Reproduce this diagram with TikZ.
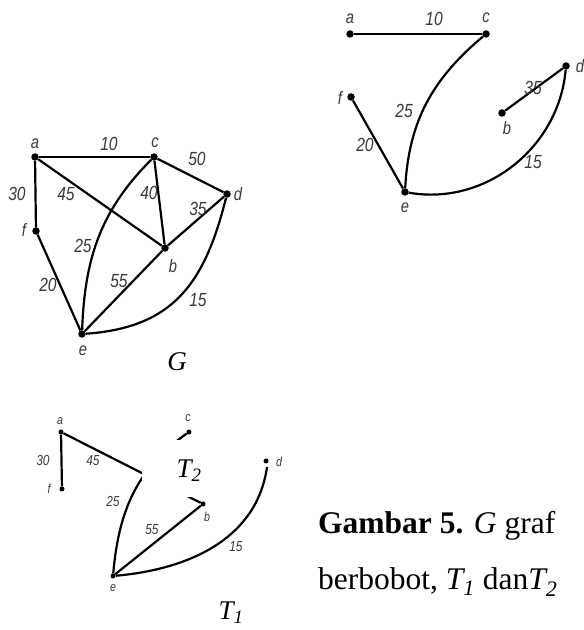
\documentclass[tikz,border=0pt]{standalone}
\usepackage{fontspec}
\setmainfont{Liberation Serif}
\newfontfamily\lblfont[FakeStretch=0.82]{Liberation Sans}
\definecolor{lblgray}{HTML}{3A3A3A}
\tikzset{
  edg/.style={line width=2.2pt, black},
  edgs/.style={line width=2.2pt, black},
  vtx/.style={circle, fill=black, inner sep=0pt, minimum size=7.5pt},
  vtxs/.style={circle, fill=black, inner sep=0pt, minimum size=5pt},
  wlbl/.style={font=\lblfont\itshape\fontsize{19}{19}\selectfont, text=lblgray, inner sep=0pt},
  vlbl/.style={font=\lblfont\itshape\fontsize{18}{18}\selectfont, text=lblgray, inner sep=0pt},
  wlbls/.style={font=\lblfont\itshape\fontsize{14.5}{14.5}\selectfont, text=lblgray, inner sep=0pt},
  vlbls/.style={font=\lblfont\itshape\fontsize{13}{13}\selectfont, text=lblgray, inner sep=0pt},
  biglbl/.style={font=\itshape\fontsize{27}{27}\selectfont, inner sep=0pt},
  captxt/.style={font=\fontsize{31.5}{31.5}\selectfont, inner sep=0pt, anchor=base west},
}
\begin{document}
\begin{tikzpicture}[x=1pt,y=1pt]
\useasboundingbox (0,0) rectangle (584,630);

% ---------------- Graph G ----------------
\node[vtx] (Ga) at (35,473) {};
\node[vtx] (Gc) at (154,473) {};
\node[vtx] (Gd) at (227,436) {};
\node[vtx] (Gf) at (36,399) {};
\node[vtx] (Gb) at (165,382) {};
\node[vtx] (Ge) at (82,296) {};
\draw[edg] (Ga) -- (Gc);
\draw[edg] (Ga) -- (Gf);
\draw[edg] (Ga) -- (Gb);
\draw[edg] (Gc) -- (Gb);
\draw[edg] (Gc) -- (Gd);
\draw[edg] (Gb) -- (Gd);
\draw[edg] (Gf) -- (Ge);
\draw[edg] (Ge) -- (Gb);
\draw[edg] (Ge) to[out=88,in=225] (Gc);
\draw[edg] (Ge) to[out=4,in=256,looseness=1.15] (Gd);
\node[vlbl] (Gla) at (35,486) {a};
\node[wlbl] (Gw10) at (109,486) {10};
\node[vlbl] (Glc) at (155,487) {c};
\node[wlbl] (Gw50) at (197,471) {50};
\node[vlbl] (Gld) at (238,436) {d};
\node[wlbl] (Gw30) at (17,436) {30};
\node[wlbl] (Gw45) at (66,436) {45};
\node[wlbl] (Gw40) at (149,437) {40};
\node[wlbl] (Gw35) at (198,421) {35};
\node[vlbl] (Glf) at (24,400) {f};
\node[wlbl] (Gw25) at (83,384) {25};
\node[vlbl] (Glb) at (173,364) {b};
\node[wlbl] (Gw55) at (119,349) {55};
\node[wlbl] (Gw20) at (48,345) {20};
\node[wlbl] (Gw15) at (198,330) {15};
\node[vlbl] (Gle) at (83,279) {e};
\node[biglbl] (GG) at (177,268) {G};

% ---------------- Tree (top right) ----------------
\node[vtx] (Ra) at (350,596) {};
\node[vtx] (Rc) at (486,596) {};
\node[vtx] (Rd) at (566,564) {};
\node[vtx] (Rf) at (351,533) {};
\node[vtx] (Rb) at (502,517) {};
\node[vtx] (Re) at (405,438) {};
\draw[edg] (Ra) -- (Rc);
\draw[edg] (Rf) -- (Re);
\draw[edg] (Rb) -- (Rd);
\draw[edg] (Re) to[out=87,in=220] (Rc);
\draw[edg] (Re) to[out=-10,in=265] (Rd);
\node[vlbl] (Rla) at (350,611) {a};
\node[wlbl] (Rw10) at (434,611) {10};
\node[vlbl] (Rlc) at (486,612) {c};
\node[vlbl] (Rld) at (580,564) {d};
\node[wlbl] (Rw35) at (533,542) {35};
\node[vlbl] (Rlf) at (340,532) {f};
\node[wlbl] (Rw25) at (404,519) {25};
\node[vlbl] (Rlb) at (507,502) {b};
\node[wlbl] (Rw20) at (365,485) {20};
\node[wlbl] (Rw15) at (533,468) {15};
\node[vlbl] (Rle) at (405,422) {e};

% ---------------- Tree T1 (bottom left) ----------------
\node[vtxs] (Sa) at (61,198) {};
\node[vtxs] (Sf) at (62,141) {};
\node[vtxs] (Sc) at (189,198) {};
\node[vtxs] (Sd) at (266,169) {};
\node[vtxs] (Sb) at (203,126) {};
\node[vtxs] (Se) at (113,54) {};
\coordinate (Sdend) at (267,163);
\draw[edgs] (Sa) -- (Sf);
\draw[edgs] (Sa) -- (Sb);
\draw[edgs] (Se) -- (Sb);
\draw[edgs] (Se) to[out=85,in=215] (Sc);
\draw[edgs] (Se) to[out=5,in=262] (Sdend);
\node[fill=white, inner sep=0pt, minimum width=86pt, minimum height=57pt] (Sbox) at (185,161.5) {};
\node[biglbl] (T2) at (189,159) {T\textsubscript{2}};
\node[vlbls] (Sla) at (60,209) {a};
\node[vlbls] (Slc) at (188,212) {c};
\node[vlbls] (Sld) at (279,168) {d};
\node[wlbls] (Sw30) at (43,169) {30};
\node[wlbls] (Sw45) at (93,169) {45};
\node[vlbls] (Slf) at (49,141) {f};
\node[wlbls] (Sw25) at (113,128) {25};
\node[vlbls] (Slb) at (207,113) {b};
\node[wlbls] (Sw55) at (152,100) {55};
\node[wlbls] (Sw15) at (236,83) {15};
\node[vlbls] (Sle) at (113,42) {e};
\node[biglbl] (T1) at (231,17) {T\textsubscript{1}};

% ---------------- Caption ----------------
\node[captxt] (cap1) at (318,96) {\textbf{Gambar 5.} \textit{G} graf};
\node[captxt] (cap2) at (318,40) {berbobot, \textit{T\textsubscript{1}} dan\textit{T\textsubscript{2}}};
\end{tikzpicture}
\end{document}
